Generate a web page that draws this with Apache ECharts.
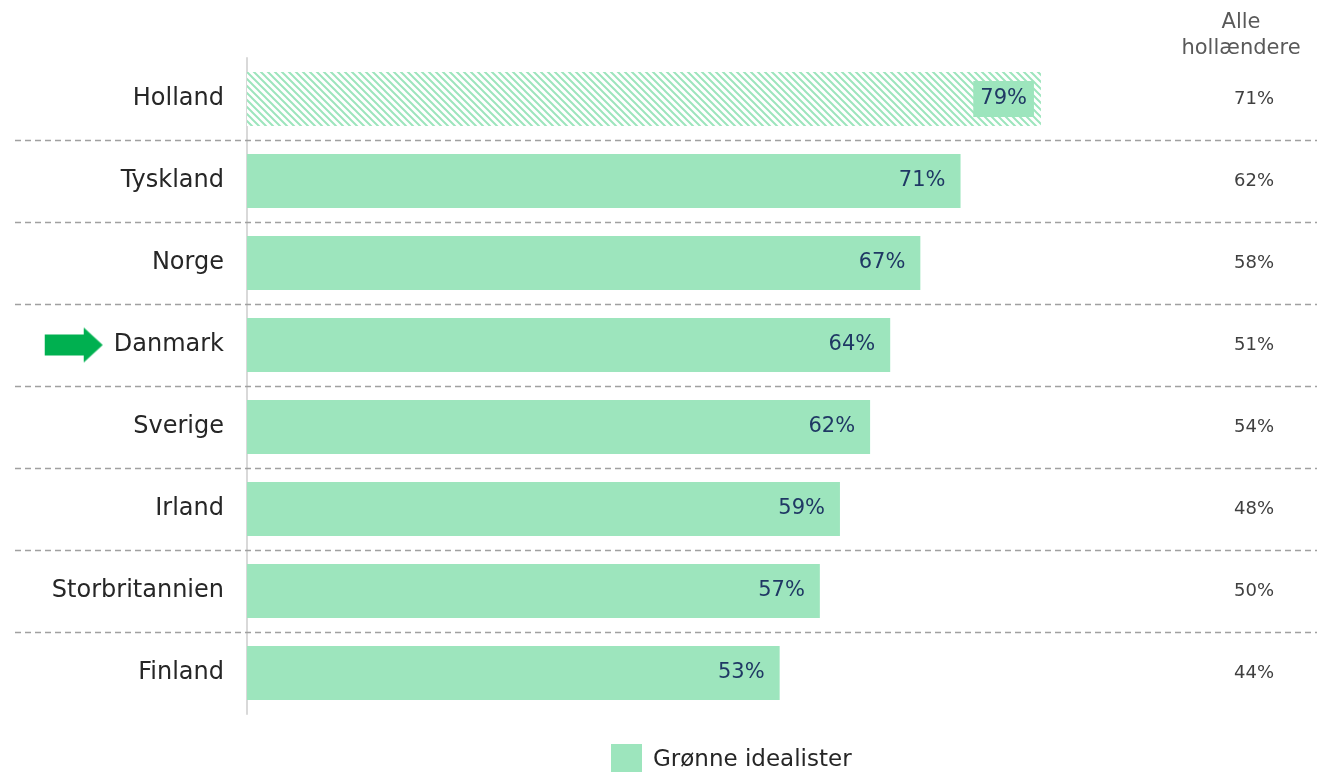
<!DOCTYPE html>
<html>
<head>
<meta charset="utf-8">
<script src="https://cdn.jsdelivr.net/npm/echarts@6/dist/echarts.min.js"></script>
<style>html,body{margin:0;padding:0;background:#fff;}#c{width:1317px;height:772px;}</style>
</head>
<body>
<div id="c"></div>
<script>
const categories = ['Holland', 'Tyskland', 'Norge', 'Danmark', 'Sverige', 'Irland', 'Storbritannien', 'Finland'];
const gronneIdealister = [79, 71, 67, 64, 62, 59, 57, 53];
const alleHollaendere = [71, 62, 58, 51, 54, 48, 50, 44];
const seriesName = 'Grønne idealister';
const rightHeader = 'Alle\nhollændere';
const highlighted = 'Danmark';
const hatched = 'Holland';

const FONT = 'DejaVu Sans';
const GREEN = '#9de5bd';

// hatch pattern
const hatch = document.createElement('canvas');
hatch.width = 7; hatch.height = 7;
(function () {
  const g = hatch.getContext('2d');
  g.fillStyle = '#fff'; g.fillRect(0, 0, 7, 7);
  g.strokeStyle = GREEN; g.lineWidth = 2;
  g.beginPath();
  g.moveTo(-1, -1); g.lineTo(8, 8);
  g.moveTo(-1, 6); g.lineTo(1, 8);
  g.moveTo(6, -1); g.lineTo(8, 1);
  g.stroke();
})();

// arrow icon
const arrow = document.createElement('canvas');
arrow.width = 58; arrow.height = 35;
(function () {
  const g = arrow.getContext('2d');
  g.fillStyle = '#00b050';
  g.beginPath();
  g.moveTo(0, 7); g.lineTo(39, 7); g.lineTo(39, 0); g.lineTo(58, 17.5);
  g.lineTo(39, 35); g.lineTo(39, 28); g.lineTo(0, 28); g.closePath();
  g.fill();
})();

const barData = gronneIdealister.map((v, i) => {
  if (categories[i] === hatched) {
    return {
      value: v,
      itemStyle: { color: { image: hatch, repeat: 'repeat' } },
      label: { backgroundColor: GREEN, padding: [8, 7, 7, 7], distance: 7 }
    };
  }
  return v;
});

const separators = categories.slice(1).map((c, i) => ({ yAxis: i + 1 }));

const chart = echarts.init(document.getElementById('c'));
chart.setOption({
  animation: false,
  title: {
    text: rightHeader,
    left: 1236, top: 5, textAlign: 'center',
    textStyle: { fontFamily: FONT, fontSize: 21, fontWeight: 'normal', color: '#595959', lineHeight: 26, align: 'center' }
  },
  legend: {
    data: [seriesName],
    left: 606, top: 739,
    itemWidth: 31, itemHeight: 32, itemGap: 10,
    icon: 'rect',
    textStyle: { fontFamily: FONT, fontSize: 23, color: '#262626', padding: [0, 0, 0, 6] }
  },
  grid: [
    { left: 247, top: 58, height: 656, width: 1005 },
    { left: 15, top: 58, height: 656, right: 0 }
  ],
  xAxis: [
    { type: 'value', gridIndex: 0, min: 0, max: 100, show: false },
    { type: 'value', gridIndex: 1, min: 0, max: 1, show: false }
  ],
  yAxis: [
    {
      type: 'category', gridIndex: 0, data: categories, inverse: true,
      axisLine: { show: true, lineStyle: { color: '#d9d9d9', width: 2 } },
      axisTick: { show: false },
      splitLine: { show: false },
      axisLabel: {
        margin: 23,
        fontFamily: FONT, fontSize: 24, color: '#262626',
        formatter: v => v === highlighted ? '{arrow|}{gap|}{t|' + v + '}' : '{t|' + v + '}',
        rich: {
          t: { fontFamily: FONT, fontSize: 24, color: '#262626' },
          gap: { width: 11 },
          arrow: { width: 58, height: 35, backgroundColor: { image: arrow } }
        }
      }
    },
    {
      type: 'category', gridIndex: 0, data: alleHollaendere.map(v => v + '%'), inverse: true,
      position: 'right',
      axisLine: { show: false }, axisTick: { show: false }, splitLine: { show: false },
      axisLabel: { margin: 2, align: 'center', fontFamily: FONT, fontSize: 18, color: '#404040', padding: [0, 0, 6, 0] }
    },
    { type: 'value', gridIndex: 1, min: 0, max: categories.length, inverse: true, show: false }
  ],
  series: [
    {
      name: seriesName,
      type: 'bar',
      xAxisIndex: 0, yAxisIndex: 0,
      data: barData,
      barWidth: 54,
      itemStyle: { color: GREEN },
      label: {
        show: true, position: 'insideRight', distance: 15,
        formatter: p => p.value + '%',
        fontFamily: FONT, fontSize: 21, color: '#1f3864'
      }
    },
    {
      type: 'line',
      xAxisIndex: 1, yAxisIndex: 2,
      data: [],
      silent: true,
      markLine: {
        silent: true, symbol: ['none', 'none'],
        label: { show: false },
        lineStyle: { color: '#a0a0a0', type: [6, 4], width: 1.3 },
        data: separators
      }
    }
  ]
});
</script>
</body>
</html>
